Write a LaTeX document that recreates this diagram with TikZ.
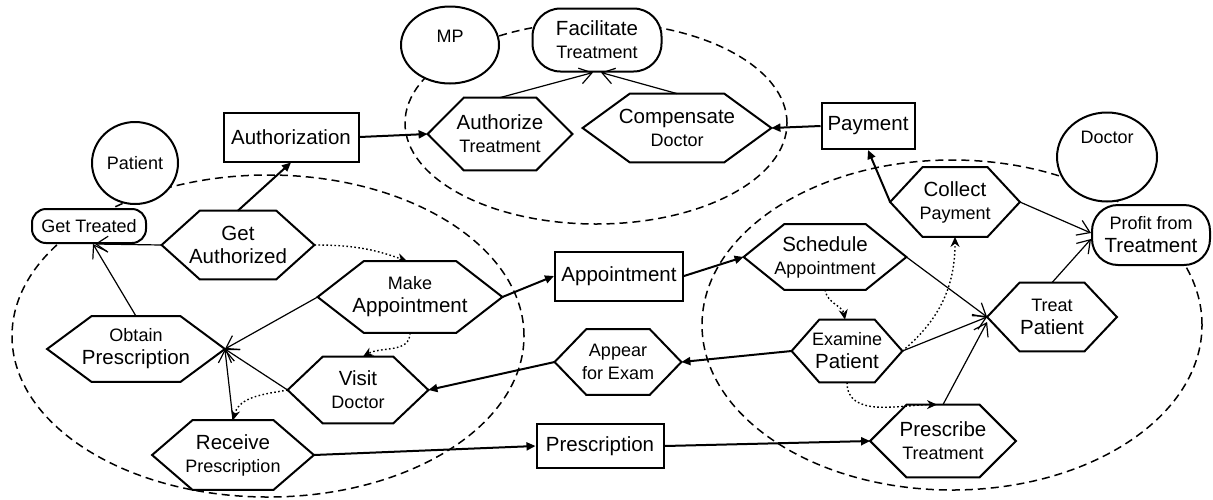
\documentclass[tikz,border=0pt]{standalone}
\usepackage{fontspec}
\setmainfont{Liberation Sans}
\usetikzlibrary{shapes.geometric, arrows.meta, calc}

\newcommand{\bigTxt}{\fontsize{10.25}{11.5}\selectfont}
\newcommand{\smallTxt}{\fontsize{9}{11.5}\selectfont}

\tikzset{
  boundary/.style={line width=0.75pt, dash pattern=on 4pt off 2.5pt},
  actor/.style 2 args={draw, line width=1pt, ellipse, fill=white, inner sep=0pt,
    minimum width=#1, minimum height=#2},
  softgoal/.style={draw, line width=1pt, fill=white, inner sep=0pt, align=center,
    font=\bigTxt, rounded corners=#1},
  resource/.style 2 args={draw, line width=1pt, fill=white, inner sep=0pt,
    minimum width=#1, minimum height=#2, font=\bigTxt},
  task/.style 2 args={inner sep=0pt, align=center, font=\bigTxt,
    minimum width=#1, minimum height=#2},
  dep/.style={line width=1pt, -{Triangle[length=4.5pt,width=4pt]}},
  meansend/.style={line width=0.6pt, -{Straight Barb[length=6pt,width=8pt]}},
  seq/.style={line width=0.7pt, dash pattern=on 0.8pt off 1.2pt,
    -{Stealth[length=5pt,width=4.5pt]}}
}

\begin{document}
\begin{tikzpicture}[x=0.5pt, y=0.5pt]
  \useasboundingbox (0,0) rectangle (1213,-499);

  % actor boundaries
  \draw[boundary] (268,-336) ellipse [x radius=256, y radius=161];
  \draw[boundary] (596,-123) ellipse [x radius=191, y radius=101];
  \draw[boundary] (952,-325) ellipse [x radius=250, y radius=165];

  % actors
  \node[actor={43pt}{41pt}, font=\smallTxt] (patient) at (135,-163) {Patient};
  \node[actor={49pt}{38.5pt}, label={[yshift=4.5pt, font=\smallTxt]center:MP}] (mp) at (450,-45) {};
  \node[actor={50pt}{44.5pt}, label={[yshift=10pt, font=\smallTxt]center:Doctor}] (doctor) at (1107,-157) {};

  % softgoals
  \node[softgoal=7pt, minimum width=57pt, minimum height=17pt, font=\smallTxt] (getTreated) at (89,-226) {Get Treated};
  \node[softgoal=14pt, minimum width=64.5pt, minimum height=31.5pt] (facil) at (597,-40) {Facilitate\\{\smallTxt Treatment}};
  \node[softgoal=13pt, minimum width=59pt, minimum height=30pt] (profit) at (1151,-235) {{\smallTxt Profit from}\\Treatment};

  % resources
  \node[resource={67.5pt}{24.5pt}] (authz) at (291,-137) {Authorization};
  \node[resource={64pt}{24.5pt}] (appt) at (619,-276) {Appointment};
  \node[resource={63.5pt}{22pt}] (prescr) at (600,-446) {Prescription};
  \node[resource={46.5pt}{23pt}] (payment) at (868,-126) {Payment};

  % tasks
  \node[task={76pt}{34pt}] (getAuth) at (238,-245) {Get\\Authorized};
  \node[task={92pt}{35.5pt}] (makeAppt) at (410,-297) {{\smallTxt Make}\\Appointment};
  \node[task={88.5pt}{32.5pt}] (obtain) at (136,-349) {{\smallTxt Obtain}\\Prescription};
  \node[task={70pt}{33pt}] (visit) at (358,-390) {Visit\\{\smallTxt Doctor}};
  \node[task={80.5pt}{34.5pt}] (receive) at (233,-455) {Receive\\{\smallTxt Prescription}};
  \node[task={72pt}{36pt}] (authTreat) at (500,-134) {Authorize\\{\smallTxt Treatment}};
  \node[task={94pt}{34pt}] (compDoc) at (677,-128) {Compensate\\{\smallTxt Doctor}};
  \node[task={63pt}{32.5pt}, font=\smallTxt] (appear) at (618,-362) {Appear\\for Exam};
  \node[task={81pt}{32.5pt}] (sched) at (825,-257) {Schedule\\{\smallTxt Appointment}};
  \node[task={55pt}{31pt}] (examine) at (847,-351) {{\smallTxt Examine}\\Patient};
  \node[task={64.5pt}{34.5pt}] (collect) at (955,-202) {Collect\\{\smallTxt Payment}};
  \node[task={64.5pt}{34pt}] (treat) at (1052,-317) {{\smallTxt Treat}\\Patient};
  \node[task={72.5pt}{36pt}] (prescribe) at (943,-441) {Prescribe\\{\smallTxt Treatment}};

  % hexagon outlines
  \foreach \t in {getAuth, makeAppt, obtain, visit, receive, authTreat, compDoc,
                  appear, sched, examine, collect, treat, prescribe}
    \draw[line width=1pt] (\t.west)
      -- ($(\t.north west)!.25!(\t.north east)$) -- ($(\t.north west)!.75!(\t.north east)$)
      -- (\t.east)
      -- ($(\t.south west)!.75!(\t.south east)$) -- ($(\t.south west)!.25!(\t.south east)$)
      -- cycle;

  % dependencies
  \draw[dep] (getAuth.north) -- (authz.south);
  \draw[dep] (authz.east) -- (authTreat.west);
  \draw[dep] (payment.west) -- (compDoc.east);
  \draw[dep] (collect.west) -- (payment.south);
  \draw[dep] (makeAppt.east) -- (appt.west);
  \draw[dep] (appt.east) -- (sched.west);
  \draw[dep] (examine.west) -- (appear.east);
  \draw[dep] (appear.west) -- (visit.east);
  \draw[dep] (receive.east) -- (prescr.west);
  \draw[dep] (prescr.east) -- (prescribe.west);

  % means-end links
  \draw[meansend] (authTreat.north) -- ([xshift=-2pt]facil.south);
  \draw[meansend] (compDoc.north) -- ([xshift=2pt]facil.south);
  \draw[meansend] (getAuth.west) -- ([xshift=3pt]getTreated.south);
  \draw[meansend] (obtain.north) -- ([xshift=2pt]getTreated.south);
  \draw[meansend] (makeAppt.west) -- (obtain.east);
  \draw[meansend] (visit.west) -- (obtain.east);
  \draw[meansend] (receive.north) -- (obtain.east);
  \draw[meansend] (sched.east) -- (treat.west);
  \draw[meansend] (examine.east) -- (treat.west);
  \draw[meansend] (prescribe.north) -- ([yshift=-2.5pt]treat.west);
  \draw[meansend] (treat.north) -- ([yshift=-2pt]profit.west);
  \draw[meansend] (collect.east) -- ([yshift=1pt]profit.west);

  % sequence
  \draw[seq] (getAuth.east) to[out=0, in=160] ([xshift=-1.5pt]makeAppt.north);
  \draw[seq] (makeAppt.south) to[out=-90, in=30] ([xshift=2.5pt]visit.north);
  \draw[seq] (visit.west) to[out=190, in=75] (receive.north);
  \draw[seq] (sched.south) to[out=-80, in=100] ([xshift=-1pt]examine.north);
  \draw[seq] (examine.east) to[out=40, in=-90] (collect.south);
  \draw[seq] (examine.south) to[out=-90, in=180] ([xshift=-3pt]prescribe.north);
\end{tikzpicture}
\end{document}
